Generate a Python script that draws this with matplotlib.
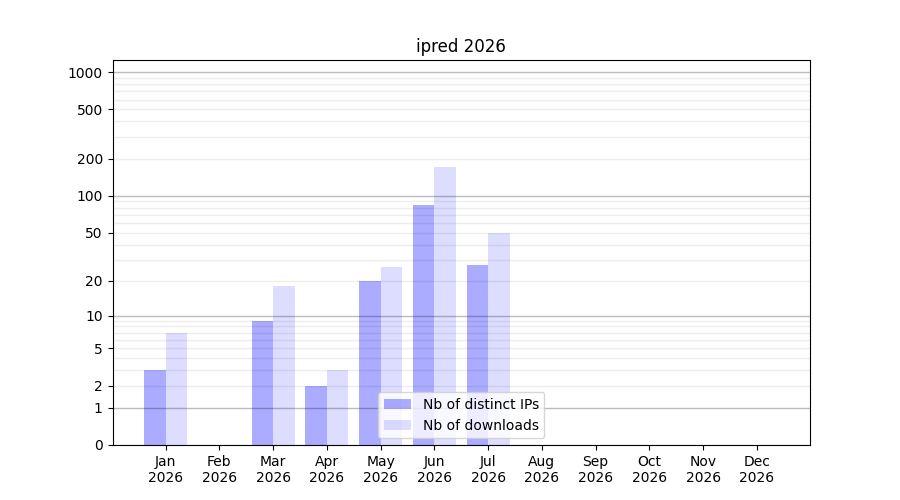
import numpy as np
import matplotlib
matplotlib.use("Agg")
import matplotlib.pyplot as plt

months = ["Jan", "Feb", "Mar", "Apr", "May", "Jun",
          "Jul", "Aug", "Sep", "Oct", "Nov", "Dec"]
year = "2026"
distinct_ips = [3, 0, 9, 2, 20, 85, 27, 0, 0, 0, 0, 0]
downloads = [7, 0, 18, 3, 26, 170, 50, 0, 0, 0, 0, 0]

ytick_vals = [0, 1, 2, 5, 10, 20, 50, 100, 200, 500, 1000]
decades = [1, 10, 100, 1000]
minor_vals = [m * d for d in [1, 10, 100] for m in [3, 4, 6, 7, 8, 9]]


def fwd(v):
    return np.log10(1 + np.clip(v, 0, None))


def inv(v):
    return 10 ** v - 1


fig, ax = plt.subplots(figsize=(9, 5), dpi=100)

x = np.arange(len(months))
ax.bar(x - 0.2, distinct_ips, width=0.4, color="blue", alpha=0.33,
       label="Nb of distinct IPs")
ax.bar(x + 0.2, downloads, width=0.4, color="blue", alpha=0.133,
       label="Nb of downloads")

ax.set_yscale("function", functions=(fwd, inv))
ax.set_ylim(0, 1250)
ax.set_yticks(ytick_vals)
ax.set_yticklabels([str(v) for v in ytick_vals])
ax.set_yticks(minor_vals, minor=True)
ax.tick_params(axis="y", which="minor", length=0)
ax.grid(True, axis="y", which="both", color="black", alpha=0.07, linewidth=1)
for d in decades:
    ax.axhline(d, color="black", alpha=0.2, linewidth=1, zorder=1.6)

ax.set_xticks(x)
ax.set_xticklabels([m + "\n" + year for m in months])

ax.set_title("ipred 2026")
ax.legend(loc="lower center")

fig.savefig("out.png")
